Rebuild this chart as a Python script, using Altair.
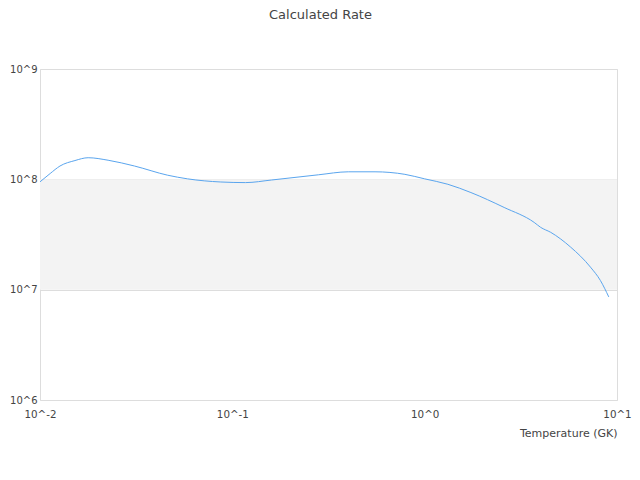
import altair as alt
import pandas as pd

# Temperature (GK) and calculated rate
temperature = [0.01, 0.0113, 0.0127, 0.0152, 0.0178, 0.0226, 0.031, 0.0461, 0.0585,
               0.0871, 0.117, 0.16, 0.281, 0.401, 0.552, 0.789, 1.0, 1.32, 1.74,
               2.59, 3.71, 4.01, 4.52, 5.74, 7.28, 8.2, 9.06]
rate = [9.49e7, 1.13e8, 1.32e8, 1.48e8, 1.57e8, 1.49e8, 1.32e8, 1.09e8, 1.01e8,
        9.46e7, 9.34e7, 9.86e7, 1.10e8, 1.17e8, 1.17e8, 1.11e8, 1.01e8, 9.02e7, 7.59e7,
        5.56e7, 4.07e7, 3.67e7, 3.31e7, 2.43e7, 1.60e7, 1.21e7, 8.6e6]

x_ticks = [0.01, 0.1, 1, 10]
y_ticks = [1e6, 1e7, 1e8, 1e9]

# alternating band (10^7 .. 10^8)
band_lo = [1e7]
band_hi = [1e8]
band_x0 = [0.01]
band_x1 = [10]

df = pd.DataFrame({"T": temperature, "R": rate})
band = pd.DataFrame({"lo": band_lo, "hi": band_hi, "x0": band_x0, "x1": band_x1})

label_expr = "'10^' + round(log(datum.value) / LN10)"

xscale = alt.Scale(type="log", domain=[0.01, 10], nice=False)
yscale = alt.Scale(type="log", domain=[1e6, 1e9], nice=False)

xaxis = alt.Axis(values=x_ticks, labelExpr=label_expr, grid=False, ticks=False, tickSize=0,
                 domain=False, labelFlush=False, labelOverlap=False, labelPadding=9,
                 labelFontSize=10.3, labelColor="#444444", labelFont="DejaVu Sans",
                 title="Temperature (GK)", titleAnchor="end", titleFontSize=11,
                 titleFontWeight="normal", titleColor="#444444", titleFont="DejaVu Sans",
                 titlePadding=8)
yaxis = alt.Axis(values=y_ticks, labelExpr=label_expr, grid=True, gridColor="#dddddd",
                 ticks=False, tickSize=0, domain=False, labelFlush=False, labelOverlap=False,
                 labelPadding=3, labelFontSize=10, labelColor="#444444",
                 labelFont="DejaVu Sans", labelBaseline="middle", title=None)

rect = alt.Chart(band).mark_rect(color="#f3f3f3").encode(
    x=alt.X("x0:Q", scale=xscale, axis=xaxis),
    x2="x1:Q",
    y=alt.Y("lo:Q", scale=yscale, axis=yaxis),
    y2="hi:Q",
)

line = alt.Chart(df).mark_line(color="#5aa5ee", strokeWidth=1, interpolate="monotone").encode(
    x=alt.X("T:Q", scale=xscale),
    y=alt.Y("R:Q", scale=yscale),
)

chart = (rect + line).properties(
    width=577,
    height=331,
    title=alt.TitleParams("Calculated Rate", fontSize=13, fontWeight="normal",
                          color="#444444", font="DejaVu Sans", anchor="middle",
                          offset=42, dx=-8),
    autosize=alt.AutoSizeParams(type="none"),
    padding={"left": 32, "top": 61, "right": 15, "bottom": 50},
).configure_view(stroke="#d9d9d9", strokeWidth=1).configure(background="white")

chart.save("out.html", embed_options={"renderer": "svg", "actions": False})
